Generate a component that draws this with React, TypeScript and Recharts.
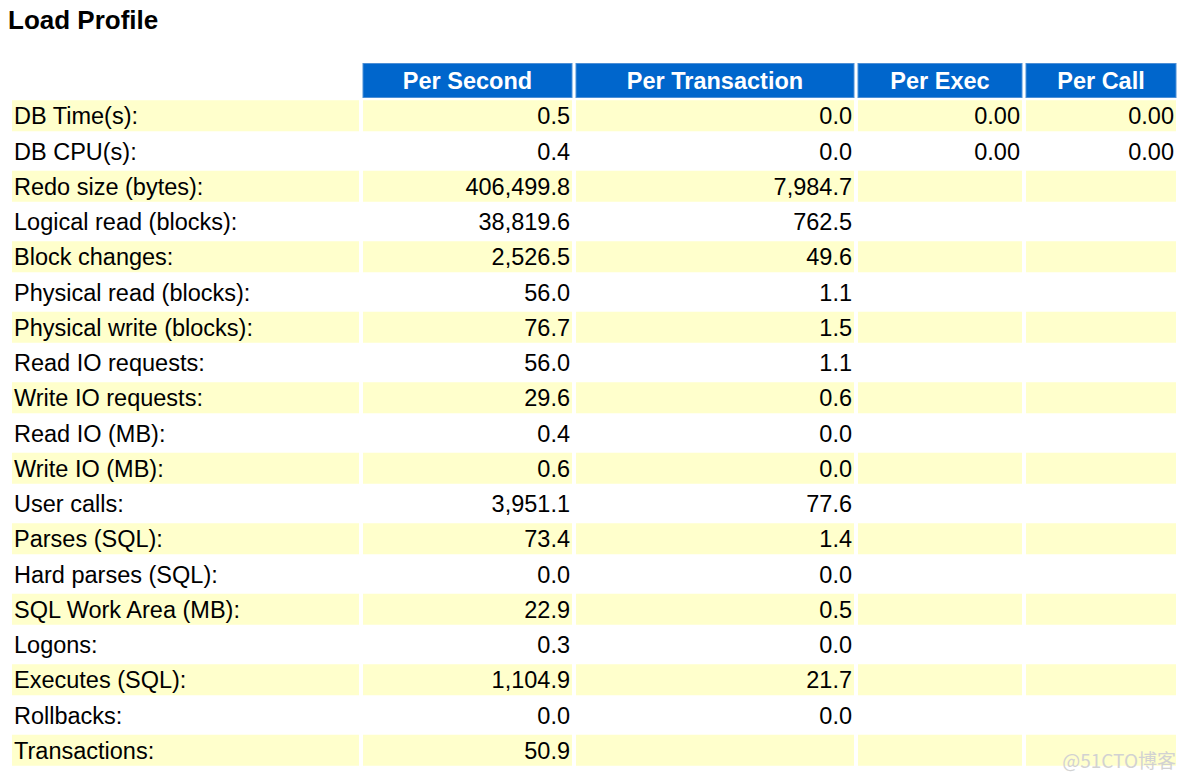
import { BarChart, Bar, XAxis, YAxis } from 'recharts'

const HEADERS = ['Per Second', 'Per Transaction', 'Per Exec', 'Per Call']

const STATS = [
  'DB Time(s):', 'DB CPU(s):', 'Redo size (bytes):', 'Logical read (blocks):', 'Block changes:',
  'Physical read (blocks):', 'Physical write (blocks):', 'Read IO requests:', 'Write IO requests:',
  'Read IO (MB):', 'Write IO (MB):', 'User calls:', 'Parses (SQL):', 'Hard parses (SQL):',
  'SQL Work Area (MB):', 'Logons:', 'Executes (SQL):', 'Rollbacks:', 'Transactions:',
]

const PER_SECOND = [
  0.5, 0.4, 406499.8, 38819.6, 2526.5, 56.0, 76.7, 56.0, 29.6, 0.4,
  0.6, 3951.1, 73.4, 0.0, 22.9, 0.3, 1104.9, 0.0, 50.9,
]

const PER_TRANSACTION: (number | null)[] = [
  0.0, 0.0, 7984.7, 762.5, 49.6, 1.1, 1.5, 1.1, 0.6, 0.0,
  0.0, 77.6, 1.4, 0.0, 0.5, 0.0, 21.7, 0.0, null,
]

const PER_EXEC: (number | null)[] = [0.0, 0.0]
const PER_CALL: (number | null)[] = [0.0, 0.0]

// column widths incl. 4px cell spacing
const COL_W = [351, 213, 282, 168, 154]

const FONT = '"Liberation Sans", Arial, Helvetica, sans-serif'
const YELLOW = '#FFFFCC'
const BLUE = '#0066CC'

const fmt = (v: number | null | undefined, digits: number) =>
  v == null ? '' : v.toLocaleString('en-US', { minimumFractionDigits: digits, maximumFractionDigits: digits })

const rows = [
  { key: 'h', header: true, cells: ['', ...HEADERS] },
  ...STATS.map((label, i) => ({
    key: `r${i}`,
    header: false,
    idx: i,
    cells: [
      label,
      fmt(PER_SECOND[i], 1),
      fmt(PER_TRANSACTION[i], 1),
      fmt(PER_EXEC[i], 2),
      fmt(PER_CALL[i], 2),
    ],
  })),
]

const makeCell = (col: number) => (props: any) => {
  const { x, y, width, height, payload } = props
  const cx = x + 2
  const w = width - 4
  const mid = y + height / 2
  if (payload.header) {
    if (col === 0) return <g />
    return (
      <g>
        <rect x={cx} y={y - 1.5} width={w} height={height + 3} fill={BLUE} stroke="#4d8fd6" strokeWidth={1} />
        <text x={cx + w / 2} y={mid + 8} textAnchor="middle" fill="#fff"
          fontFamily={FONT} fontSize={23.5} fontWeight="bold">
          {payload.cells[col]}
        </text>
      </g>
    )
  }
  const striped = payload.idx % 2 === 0
  return (
    <g>
      {striped && <rect x={cx} y={y} width={w} height={height} fill={YELLOW} />}
      <text
        x={col === 0 ? cx + 2 : cx + w - 2}
        y={mid + 8.5}
        textAnchor={col === 0 ? 'start' : 'end'}
        fill="#000"
        fontFamily={FONT}
        fontSize={23.5}
      >
        {payload.cells[col]}
      </text>
    </g>
  )
}

export default function App() {
  return (
    <div style={{ position: 'absolute', left: 0, top: 0, width: 1184, height: 780, background: '#fff' }}>
      <div style={{
        position: 'absolute', left: 8, top: 7, fontFamily: FONT, fontSize: 26,
        lineHeight: '26px', fontWeight: 'bold', color: '#000',
      }}>
        Load Profile
      </div>
      <BarChart
        width={1184}
        height={780}
        data={rows}
        layout="vertical"
        margin={{ top: 63, right: 6, left: 10, bottom: 12 }}
        barCategoryGap={2}
      >
        <XAxis type="number" domain={[0, 1168]} hide />
        <YAxis type="category" dataKey="key" hide />
        {COL_W.map((cw, col) => (
          <Bar
            key={col}
            stackId="t"
            dataKey={() => cw}
            shape={makeCell(col)}
            isAnimationActive={false}
          />
        ))}
      </BarChart>
      <div style={{
        position: 'absolute', right: 8, top: 750, fontFamily: '"Noto Sans CJK SC", sans-serif',
        fontSize: 19, lineHeight: '19px', color: '#d2d2d2',
      }}>
        @51CTO博客
      </div>
    </div>
  )
}
